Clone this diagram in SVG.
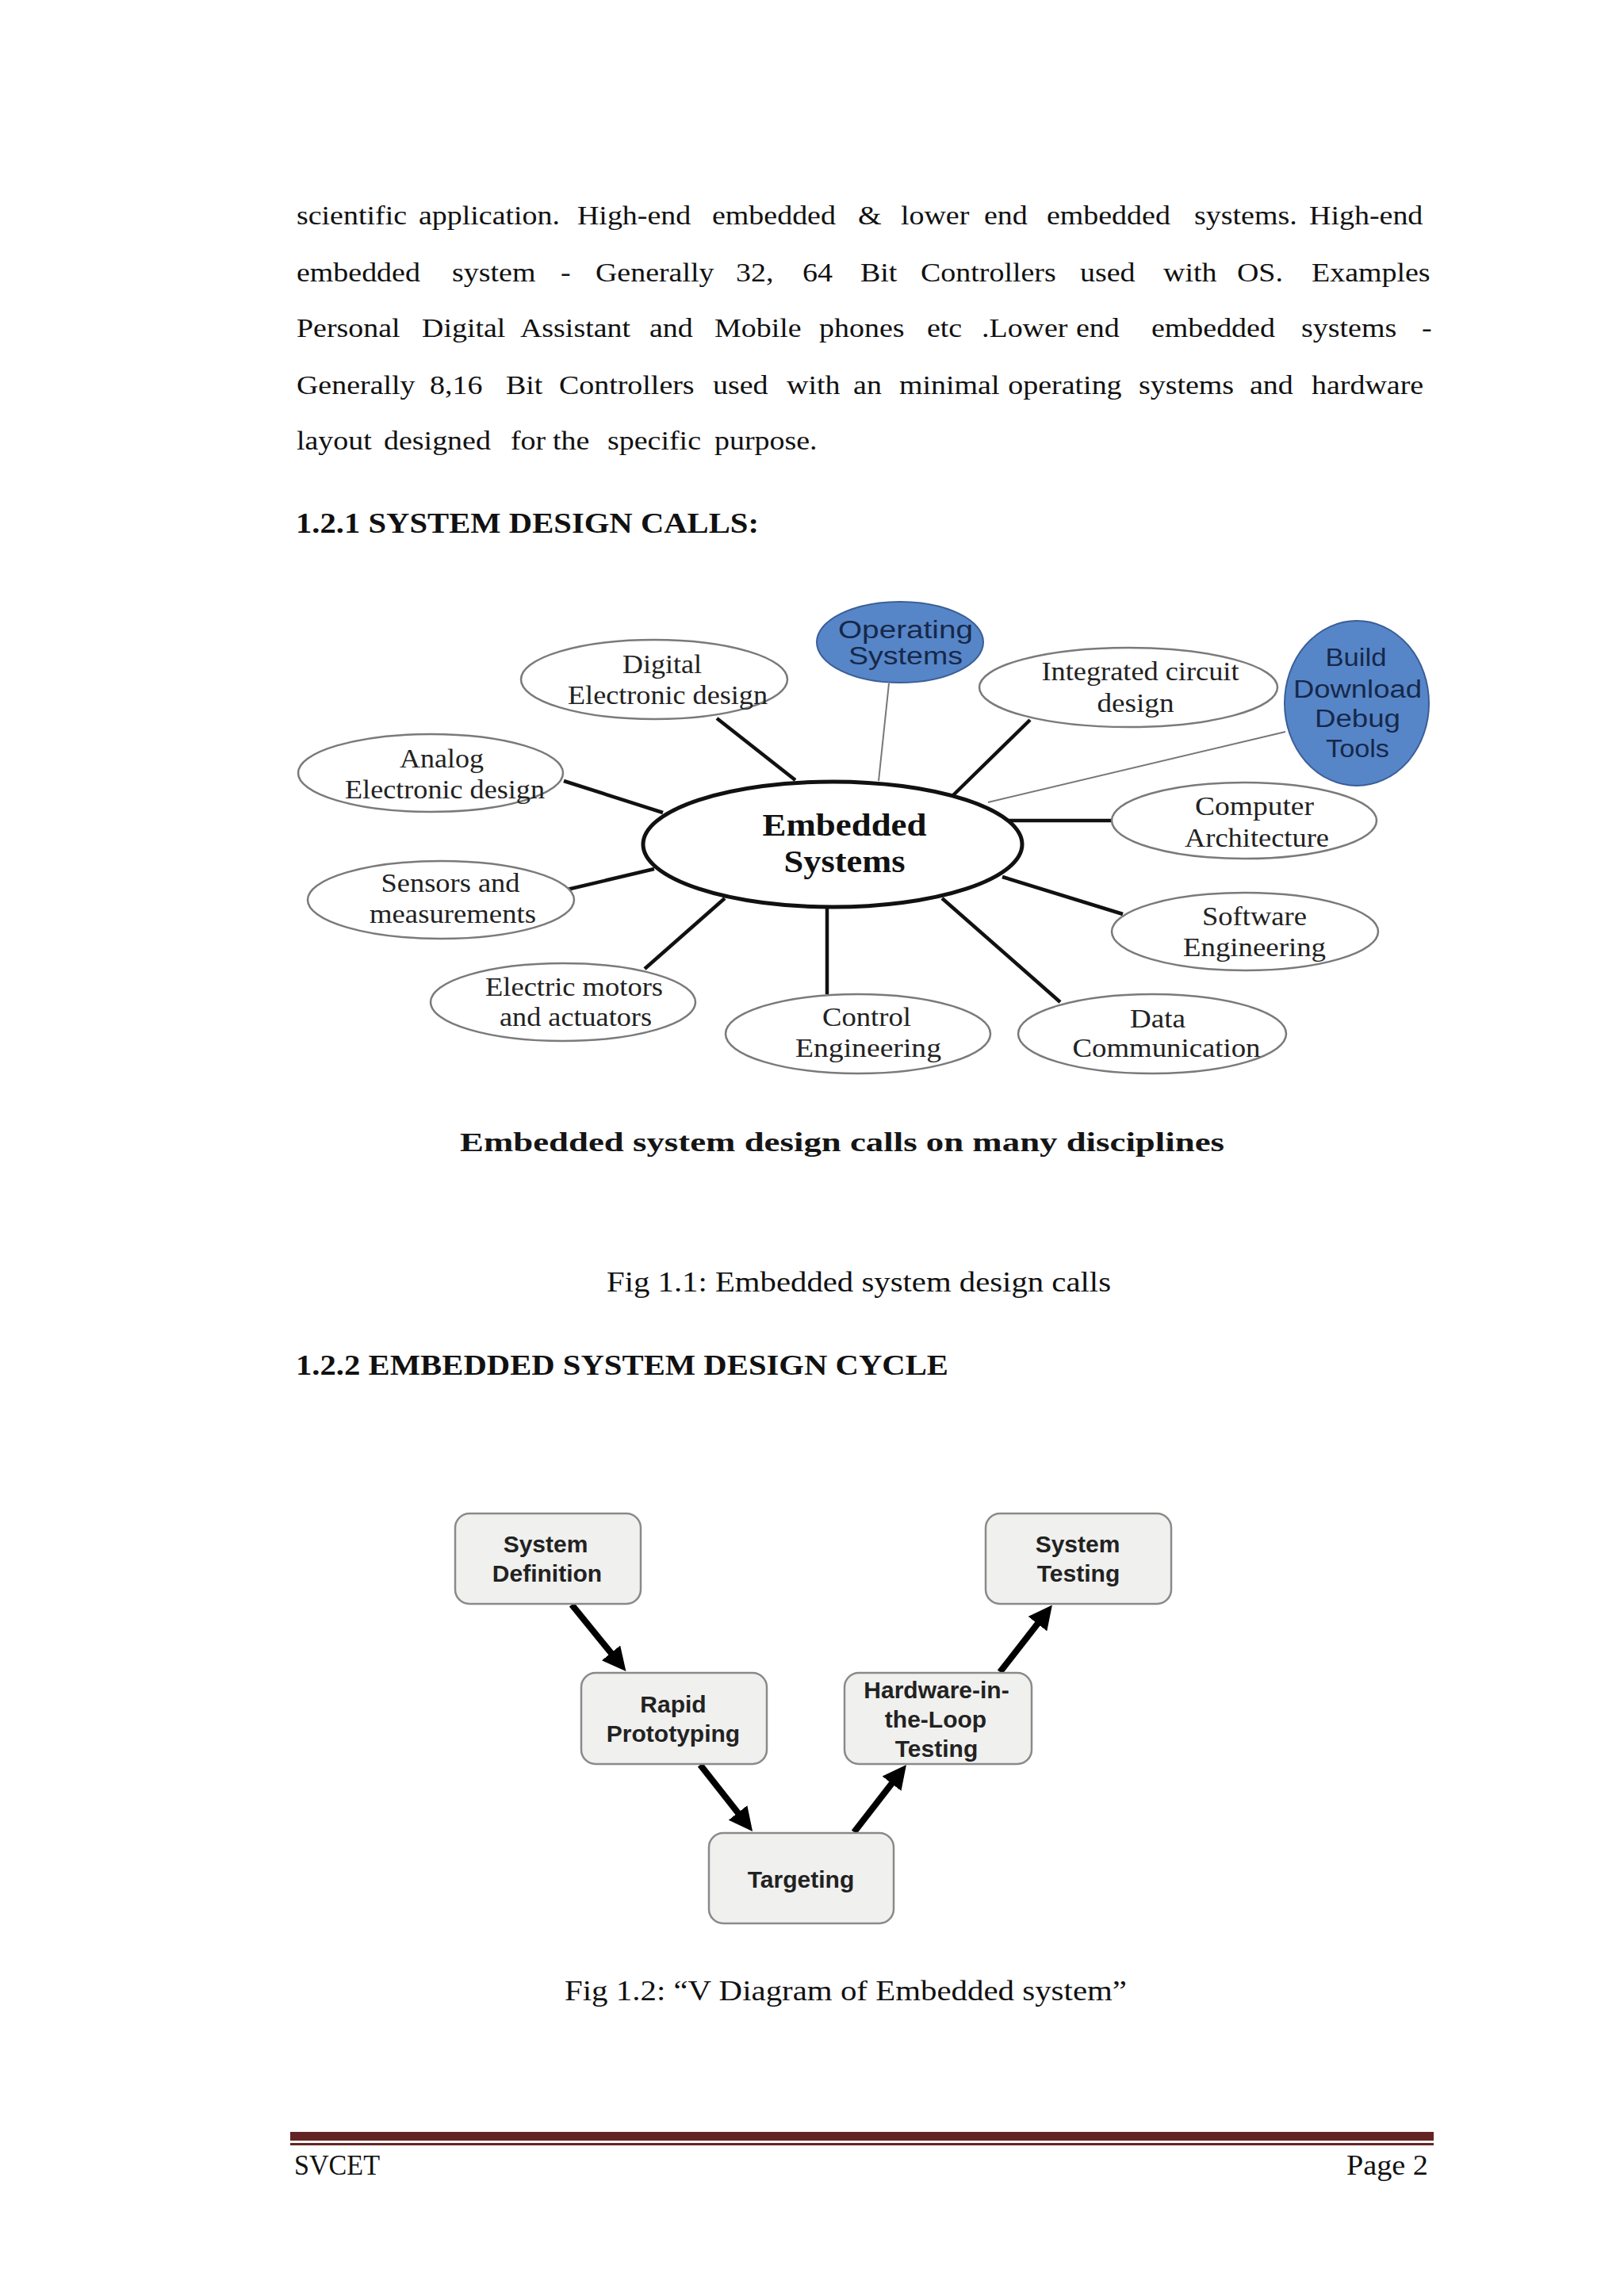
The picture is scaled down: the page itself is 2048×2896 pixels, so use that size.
<svg xmlns="http://www.w3.org/2000/svg" width="2048" height="2896" viewBox="0 0 2048 2896">
<defs>
<style>
.body{font-family:"Liberation Serif","Times New Roman",serif;font-size:33px;fill:#111}
.head{font-family:"Liberation Serif","Times New Roman",serif;font-size:36px;font-weight:bold;fill:#111}
.cap{font-family:"Liberation Serif","Times New Roman",serif;font-size:35px;fill:#111}
.lbl{font-family:"Liberation Serif","Times New Roman",serif;font-size:33px;fill:#222;text-anchor:middle}
.ctr{font-family:"Liberation Serif","Times New Roman",serif;font-size:39px;font-weight:bold;fill:#111;text-anchor:middle}
.blt{font-family:"Liberation Sans",Arial,sans-serif;font-size:31px;fill:#17284a;text-anchor:middle}
.oval{fill:#fff;stroke:#7a7a7a;stroke-width:2.5}
.blue{fill:#5686c8;stroke:#3a5e96;stroke-width:2}
.thick{stroke:#111;stroke-width:4.5;fill:none}
.thin{stroke:#777;stroke-width:2;fill:none}
.box{fill:#f0f0ee;stroke:#8a8a8a;stroke-width:2.5}
.bt{font-family:"Liberation Sans",Arial,sans-serif;font-size:30px;font-weight:bold;fill:#222;text-anchor:middle}
.arr{stroke:#000;stroke-width:8;fill:none;marker-end:url(#ah)}
</style>
<marker id="ah" markerUnits="userSpaceOnUse" viewBox="0 0 30 30" markerWidth="30" markerHeight="30" refX="10" refY="15" orient="auto">
<path d="M0,0 L30,15 L0,30 z" fill="#000"/>
</marker>
</defs>
<rect x="0" y="0" width="2048" height="2896" fill="#fff"/>

<g id="body-text" class="body" transform="scale(1.15 1)">
<text y="283"><tspan x="325.2">scientific</tspan><tspan x="459.1">application.</tspan><tspan x="633.0">High-end</tspan><tspan x="780.9">embedded</tspan><tspan x="940.9">&amp;</tspan><tspan x="987.8">lower</tspan><tspan x="1079.1">end</tspan><tspan x="1147.8">embedded</tspan><tspan x="1309.6">systems.</tspan><tspan x="1435.7">High-end</tspan></text>
<text y="355"><tspan x="325.2">embedded</tspan><tspan x="495.7">system</tspan><tspan x="614.8">-</tspan><tspan x="653.0">Generally</tspan><tspan x="807.0">32,</tspan><tspan x="880.0">64</tspan><tspan x="943.5">Bit</tspan><tspan x="1009.6">Controllers</tspan><tspan x="1184.3">used</tspan><tspan x="1275.7">with</tspan><tspan x="1356.5">OS.</tspan><tspan x="1438.3">Examples</tspan></text>
<text y="425"><tspan x="325.2">Personal</tspan><tspan x="462.6">Digital</tspan><tspan x="570.4">Assistant</tspan><tspan x="712.2">and</tspan><tspan x="783.5">Mobile</tspan><tspan x="898.3">phones</tspan><tspan x="1016.5">etc</tspan><tspan x="1076.5">.Lower</tspan><tspan x="1180.0">end</tspan><tspan x="1262.6">embedded</tspan><tspan x="1427.0">systems</tspan><tspan x="1559.1">-</tspan></text>
<text y="497"><tspan x="325.2">Generally</tspan><tspan x="471.3">8,16</tspan><tspan x="554.8">Bit</tspan><tspan x="613.0">Controllers</tspan><tspan x="781.7">used</tspan><tspan x="862.6">with</tspan><tspan x="935.7">an</tspan><tspan x="986.1">minimal</tspan><tspan x="1105.5">operating</tspan><tspan x="1248.7">systems</tspan><tspan x="1370.4">and</tspan><tspan x="1438.3">hardware</tspan></text>
<text y="567"><tspan x="325.2">layout</tspan><tspan x="420.9">designed</tspan><tspan x="560.0">for</tspan><tspan x="606.1">the</tspan><tspan x="666.1">specific</tspan><tspan x="783.5">purpose.</tspan></text>
</g>

<text id="heading-1" class="head" x="373" y="672" textLength="584" lengthAdjust="spacingAndGlyphs">1.2.1 SYSTEM  DESIGN CALLS:</text>

<g id="connectors-fig1">
<line class="thick" x1="904" y1="906" x2="1003" y2="984"/>
<line class="thin" x1="1121" y1="862" x2="1108" y2="985"/>
<line class="thick" x1="1299" y1="908" x2="1202" y2="1003"/>
<line class="thin" x1="1621" y1="923" x2="1246" y2="1012"/>
<line class="thick" x1="1271" y1="1035" x2="1402" y2="1035"/>
<line class="thick" x1="1264" y1="1106" x2="1416" y2="1153"/>
<line class="thick" x1="1188" y1="1133" x2="1337" y2="1264"/>
<line class="thick" x1="1043" y1="1140" x2="1043" y2="1254"/>
<line class="thick" x1="914" y1="1133" x2="813" y2="1222"/>
<line class="thick" x1="825" y1="1096" x2="711" y2="1123"/>
<line class="thick" x1="711" y1="985" x2="836" y2="1025"/>
</g>

<g id="node-embedded">
<ellipse cx="1050" cy="1065" rx="239" ry="79" fill="#fff" stroke="#111" stroke-width="5"/>
<text class="ctr" x="1065" y="1054" textLength="207" lengthAdjust="spacingAndGlyphs">Embedded</text>
<text class="ctr" x="1065" y="1100" textLength="153" lengthAdjust="spacingAndGlyphs">Systems</text>
</g>
<g id="node-digital">
<ellipse class="oval" cx="825" cy="857" rx="168" ry="50"/>
<text class="lbl" x="835" y="849" textLength="100" lengthAdjust="spacingAndGlyphs">Digital</text>
<text class="lbl" x="842" y="888" textLength="252" lengthAdjust="spacingAndGlyphs">Electronic design</text>
</g>
<g id="node-analog">
<ellipse class="oval" cx="543" cy="975" rx="167" ry="49"/>
<text class="lbl" x="557" y="968" textLength="106" lengthAdjust="spacingAndGlyphs">Analog</text>
<text class="lbl" x="561" y="1007" textLength="252" lengthAdjust="spacingAndGlyphs">Electronic design</text>
</g>
<g id="node-sensors">
<ellipse class="oval" cx="556" cy="1135" rx="168" ry="49"/>
<text class="lbl" x="568" y="1125" textLength="175" lengthAdjust="spacingAndGlyphs">Sensors and</text>
<text class="lbl" x="571" y="1164" textLength="210" lengthAdjust="spacingAndGlyphs">measurements</text>
</g>
<g id="node-electric">
<ellipse class="oval" cx="710" cy="1264" rx="167" ry="49"/>
<text class="lbl" x="724" y="1256" textLength="224" lengthAdjust="spacingAndGlyphs">Electric motors</text>
<text class="lbl" x="726" y="1294" textLength="192" lengthAdjust="spacingAndGlyphs">and actuators</text>
</g>
<g id="node-control">
<ellipse class="oval" cx="1082" cy="1304" rx="167" ry="50"/>
<text class="lbl" x="1093" y="1294" textLength="112" lengthAdjust="spacingAndGlyphs">Control</text>
<text class="lbl" x="1095" y="1333" textLength="184" lengthAdjust="spacingAndGlyphs">Engineering</text>
</g>
<g id="node-data">
<ellipse class="oval" cx="1453" cy="1304" rx="169" ry="50"/>
<text class="lbl" x="1460" y="1296" textLength="70" lengthAdjust="spacingAndGlyphs">Data</text>
<text class="lbl" x="1471" y="1333" textLength="237" lengthAdjust="spacingAndGlyphs">Communication</text>
</g>
<g id="node-software">
<ellipse class="oval" cx="1570" cy="1175" rx="168" ry="49"/>
<text class="lbl" x="1582" y="1167" textLength="132" lengthAdjust="spacingAndGlyphs">Software</text>
<text class="lbl" x="1582" y="1206" textLength="180" lengthAdjust="spacingAndGlyphs">Engineering</text>
</g>
<g id="node-computer">
<ellipse class="oval" cx="1569" cy="1035" rx="167" ry="48"/>
<text class="lbl" x="1582" y="1028" textLength="150" lengthAdjust="spacingAndGlyphs">Computer</text>
<text class="lbl" x="1585" y="1068" textLength="182" lengthAdjust="spacingAndGlyphs">Architecture</text>
</g>
<g id="node-integrated">
<ellipse class="oval" cx="1423" cy="867" rx="188" ry="50"/>
<text class="lbl" x="1438" y="858" textLength="249" lengthAdjust="spacingAndGlyphs">Integrated circuit</text>
<text class="lbl" x="1432" y="898" textLength="97" lengthAdjust="spacingAndGlyphs">design</text>
</g>
<g id="node-operating">
<ellipse class="blue" cx="1135" cy="810" rx="105" ry="51"/>
<text class="blt" x="1142" y="805" textLength="170" lengthAdjust="spacingAndGlyphs">Operating</text>
<text class="blt" x="1142" y="838" textLength="144" lengthAdjust="spacingAndGlyphs">Systems</text>
</g>
<g id="node-build">
<ellipse class="blue" cx="1711" cy="887" rx="91" ry="104"/>
<text class="blt" x="1710" y="840" textLength="77" lengthAdjust="spacingAndGlyphs">Build</text>
<text class="blt" x="1712" y="880" textLength="162" lengthAdjust="spacingAndGlyphs">Download</text>
<text class="blt" x="1712" y="917" textLength="108" lengthAdjust="spacingAndGlyphs">Debug</text>
<text class="blt" x="1712" y="955" textLength="80" lengthAdjust="spacingAndGlyphs">Tools</text>
</g>

<text id="fig1-title" x="580" y="1452" font-family="Liberation Serif, Times New Roman, serif" font-size="33" font-weight="bold" fill="#151515" textLength="964" lengthAdjust="spacingAndGlyphs">Embedded system design calls on many disciplines</text>

<text id="fig1-caption" class="cap" x="765" y="1629" textLength="636" lengthAdjust="spacingAndGlyphs">Fig 1.1: Embedded  system  design  calls</text>

<text id="heading-2" class="head" x="373" y="1734" textLength="823" lengthAdjust="spacingAndGlyphs">1.2.2 EMBEDDED SYSTEM  DESIGN  CYCLE</text>

<g id="connectors-fig2">
<line class="arr" x1="721" y1="2024" x2="776.8" y2="2092.6"/>
<line class="arr" x1="883" y1="2226" x2="936.7" y2="2294.3"/>
<line class="arr" x1="1077" y1="2311" x2="1130.7" y2="2241.8"/>
<line class="arr" x1="1261" y1="2109" x2="1314.6" y2="2040.3"/>
</g>

<g id="node-sysdef">
<rect class="box" x="574" y="1909" width="234" height="114" rx="18"/>
<text class="bt" x="688" y="1958">System</text>
<text class="bt" x="690" y="1995">Definition</text>
</g>
<g id="node-systest">
<rect class="box" x="1243" y="1909" width="234" height="114" rx="18"/>
<text class="bt" x="1359" y="1958">System</text>
<text class="bt" x="1360" y="1995">Testing</text>
</g>
<g id="node-rapid">
<rect class="box" x="733" y="2110" width="234" height="115" rx="18"/>
<text class="bt" x="849" y="2160">Rapid</text>
<text class="bt" x="849" y="2197">Prototyping</text>
</g>
<g id="node-hil">
<rect class="box" x="1065" y="2110" width="236" height="115" rx="18"/>
<text class="bt" x="1181" y="2142">Hardware-in-</text>
<text class="bt" x="1180" y="2179">the-Loop</text>
<text class="bt" x="1181" y="2216">Testing</text>
</g>
<g id="node-targeting">
<rect class="box" x="894" y="2312" width="233" height="114" rx="18"/>
<text class="bt" x="1010" y="2381">Targeting</text>
</g>

<text id="fig2-caption" class="cap" x="712" y="2523" textLength="709" lengthAdjust="spacingAndGlyphs">Fig 1.2: “V Diagram  of Embedded  system”</text>

<g id="footer">
<rect x="366" y="2689" width="1442" height="11" fill="#632523"/>
<rect x="366" y="2703" width="1442" height="3" fill="#632523"/>
<text class="cap" x="371" y="2743" textLength="108" lengthAdjust="spacingAndGlyphs">SVCET</text>
<text class="cap" x="1698" y="2743" textLength="103" lengthAdjust="spacingAndGlyphs">Page 2</text>
</g>
</svg>
